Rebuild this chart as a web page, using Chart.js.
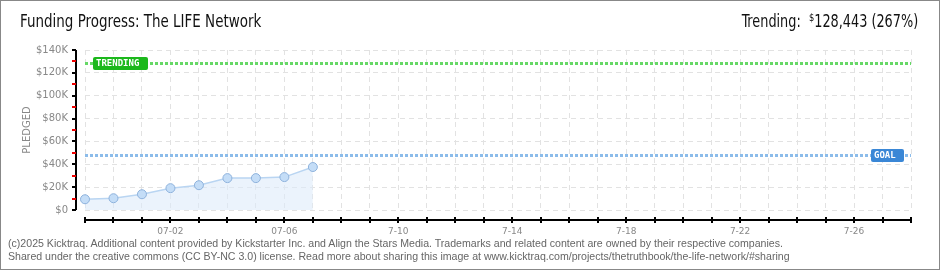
<!DOCTYPE html>
<html>
<head>
<meta charset="utf-8">
<script src="https://cdn.jsdelivr.net/npm/chart.js@4.4.1/dist/chart.umd.min.js"></script>
<style>
  html, body { margin: 0; padding: 0; background: #fff; }
  #page { position: relative; width: 940px; height: 270px; overflow: hidden; }
  #frame { position: absolute; left: 0; top: 0; width: 938px; height: 268px; border: 1px solid #888; pointer-events: none; }
  #c { position: absolute; left: 0; top: 0; }
  .head { position: absolute; top: 11px; font-family: "DejaVu Sans Condensed", "DejaVu Sans", sans-serif; font-stretch: condensed; font-size: 17px; color: #111; white-space: nowrap; }
  #title { left: 20px; transform: scaleX(0.88); transform-origin: left top; }
  #trend { right: 22px; transform: scaleX(0.84); transform-origin: right top; }
  #trend sup { font-size: 11px; vertical-align: 6px; }
  .foot { position: absolute; left: 8px; font-family: "Liberation Sans", sans-serif; font-size: 10.6px; color: #666; white-space: nowrap; }
</style>
</head>
<body>
<div id="page">
  <canvas id="c" width="940" height="270"></canvas>
  <div id="title" class="head">Funding Progress: The LIFE Network</div>
  <div id="trend" class="head">Trending: &nbsp;<sup>$</sup>128,443 (267%)</div>
  <div class="foot" style="top:237px">(c)2025 Kicktraq. Additional content provided by Kickstarter Inc. and Align the Stars Media. Trademarks and related content are owned by their respective companies.</div>
  <div class="foot" style="top:250px">Shared under the creative commons (CC BY-NC 3.0) license. Read more about sharing this image at www.kicktraq.com/projects/thetruthbook/the-life-network/#sharing</div>
  <div id="frame"></div>
</div>
<script>
// dias de la campaña (eje x)
var dates = ['06-29','06-30','07-01','07-02','07-03','07-04','07-05','07-06','07-07','07-08',
             '07-09','07-10','07-11','07-12','07-13','07-14','07-15','07-16','07-17','07-18',
             '07-19','07-20','07-21','07-22','07-23','07-24','07-25','07-26','07-27','07-28'];
var tickDates = ['07-02','07-06','07-10','07-14','07-18','07-22','07-26'];
var tickText  = ['07-02','07-06','7-10','7-14','7-18','7-22','7-26'];

// dinero recaudado por dia
var pledged = [9400, 10300, 13800, 19100, 21700, 27900, 27900, 28800, 37600];

// lineas de referencia
var goal = 48100;
var trending = 128443;

var yTicks = [0, 20000, 40000, 60000, 80000, 100000, 120000, 140000];

// dibuja los ejes separados del area y las lineas de meta/tendencia
var ejes = {
  id: 'ejes',
  beforeDatasetsDraw: function (chart) {
    var ctx = chart.ctx, a = chart.chartArea;
    var y = chart.scales.y;
    ctx.save();
    function refLine(v, color) {
      var py = Math.round(y.getPixelForValue(v)) + 0.5;
      ctx.strokeStyle = color;
      ctx.lineWidth = 3;
      ctx.setLineDash([3, 2]);
      ctx.beginPath();
      ctx.moveTo(a.left, py);
      ctx.lineTo(a.right, py);
      ctx.stroke();
    }
    refLine(trending, '#66d866');
    refLine(goal, '#8cbcea');
    ctx.restore();
  },
  afterDraw: function (chart) {
    var ctx = chart.ctx, a = chart.chartArea;
    var x = chart.scales.x, y = chart.scales.y;
    ctx.save();
    ctx.setLineDash([]);
    ctx.lineWidth = 2;
    ctx.strokeStyle = '#000';
    // eje y
    var ax = a.left - 9;
    ctx.beginPath();
    ctx.moveTo(ax, y.getPixelForValue(0));
    ctx.lineTo(ax, y.getPixelForValue(140000));
    ctx.stroke();
    for (var v = 0; v <= 140000; v += 10000) {
      var py = Math.round(y.getPixelForValue(v));
      ctx.strokeStyle = (v % 20000 === 0) ? '#000' : '#e00';
      ctx.beginPath();
      ctx.moveTo(ax - 4, py);
      ctx.lineTo(ax, py);
      ctx.stroke();
    }
    // eje x
    var by = a.bottom + 10;
    ctx.strokeStyle = '#000';
    ctx.beginPath();
    ctx.moveTo(a.left, by);
    ctx.lineTo(a.right, by);
    ctx.stroke();
    for (var i = 0; i < dates.length; i++) {
      var px = Math.round(x.getPixelForValue(i));
      ctx.beginPath();
      ctx.moveTo(px, by - 3);
      ctx.lineTo(px, by + 3);
      ctx.stroke();
    }
    // etiquetas TRENDING y GOAL
    function tag(v, text, color, left, w) {
      var py = Math.round(y.getPixelForValue(v));
      ctx.fillStyle = color;
      ctx.beginPath();
      ctx.roundRect(left, py - 6, w, 13, 2);
      ctx.fill();
      ctx.fillStyle = '#fff';
      ctx.font = 'bold 9px "DejaVu Sans Mono", monospace';
      ctx.textBaseline = 'middle';
      ctx.textAlign = 'left';
      ctx.fillText(text, left + 3, py + 1);
    }
    tag(trending, 'TRENDING', '#1cb81c', a.left + 8, 55);
    tag(goal, 'GOAL', '#3a87d6', a.right - 40, 33);
    ctx.restore();
  }
};

var ctx = document.getElementById('c').getContext('2d');
var grafico = new Chart(ctx, {
  type: 'line',
  data: {
    labels: dates,
    datasets: [{
      label: 'Pledged',
      data: pledged,
      borderColor: '#b9d5f2',
      borderWidth: 1.5,
      backgroundColor: 'rgba(222,235,250,0.6)',
      fill: 'origin',
      tension: 0,
      pointRadius: 4.5,
      pointBackgroundColor: '#c4ddf7',
      pointBorderColor: '#8eb2dc',
      pointBorderWidth: 1
    }]
  },
  options: {
    responsive: false,
    animation: false,
    devicePixelRatio: 1,
    layout: { padding: { left: 0, top: 50, right: 29, bottom: 30 } },
    plugins: { legend: { display: false }, tooltip: { enabled: false } },
    scales: {
      x: {
        offset: false,
        afterFit: function (s) { s.height = 30; },
        grid: { color: '#e2e2e2', drawTicks: false, borderDash: [5, 4] },
        border: { display: false, dash: [5, 4] },
        ticks: {
          autoSkip: false, maxRotation: 0, padding: 16,
          color: '#888', font: { family: 'DejaVu Sans', size: 9 },
          callback: function (v, i) {
            var k = tickDates.indexOf(dates[i]);
            return k < 0 ? '' : tickText[k];
          }
        }
      },
      y: {
        min: 0, max: 140000,
        afterFit: function (s) { s.width = 85; },
        afterBuildTicks: function (s) { s.ticks = yTicks.map(function (v) { return { value: v }; }); },
        grid: { color: '#e2e2e2', drawTicks: false, borderDash: [5, 4] },
        border: { display: false, dash: [5, 4] },
        title: { display: true, text: 'PLEDGED', color: '#888', font: { family: 'DejaVu Sans', size: 10 }, padding: { top: 21 } },
        ticks: {
          padding: 17, color: '#888', font: { family: 'DejaVu Sans', size: 10 },
          callback: function (v) { return '$' + (v === 0 ? '0' : (v / 1000) + 'K'); }
        }
      }
    }
  },
  plugins: [ejes]
});
</script>
</body>
</html>
